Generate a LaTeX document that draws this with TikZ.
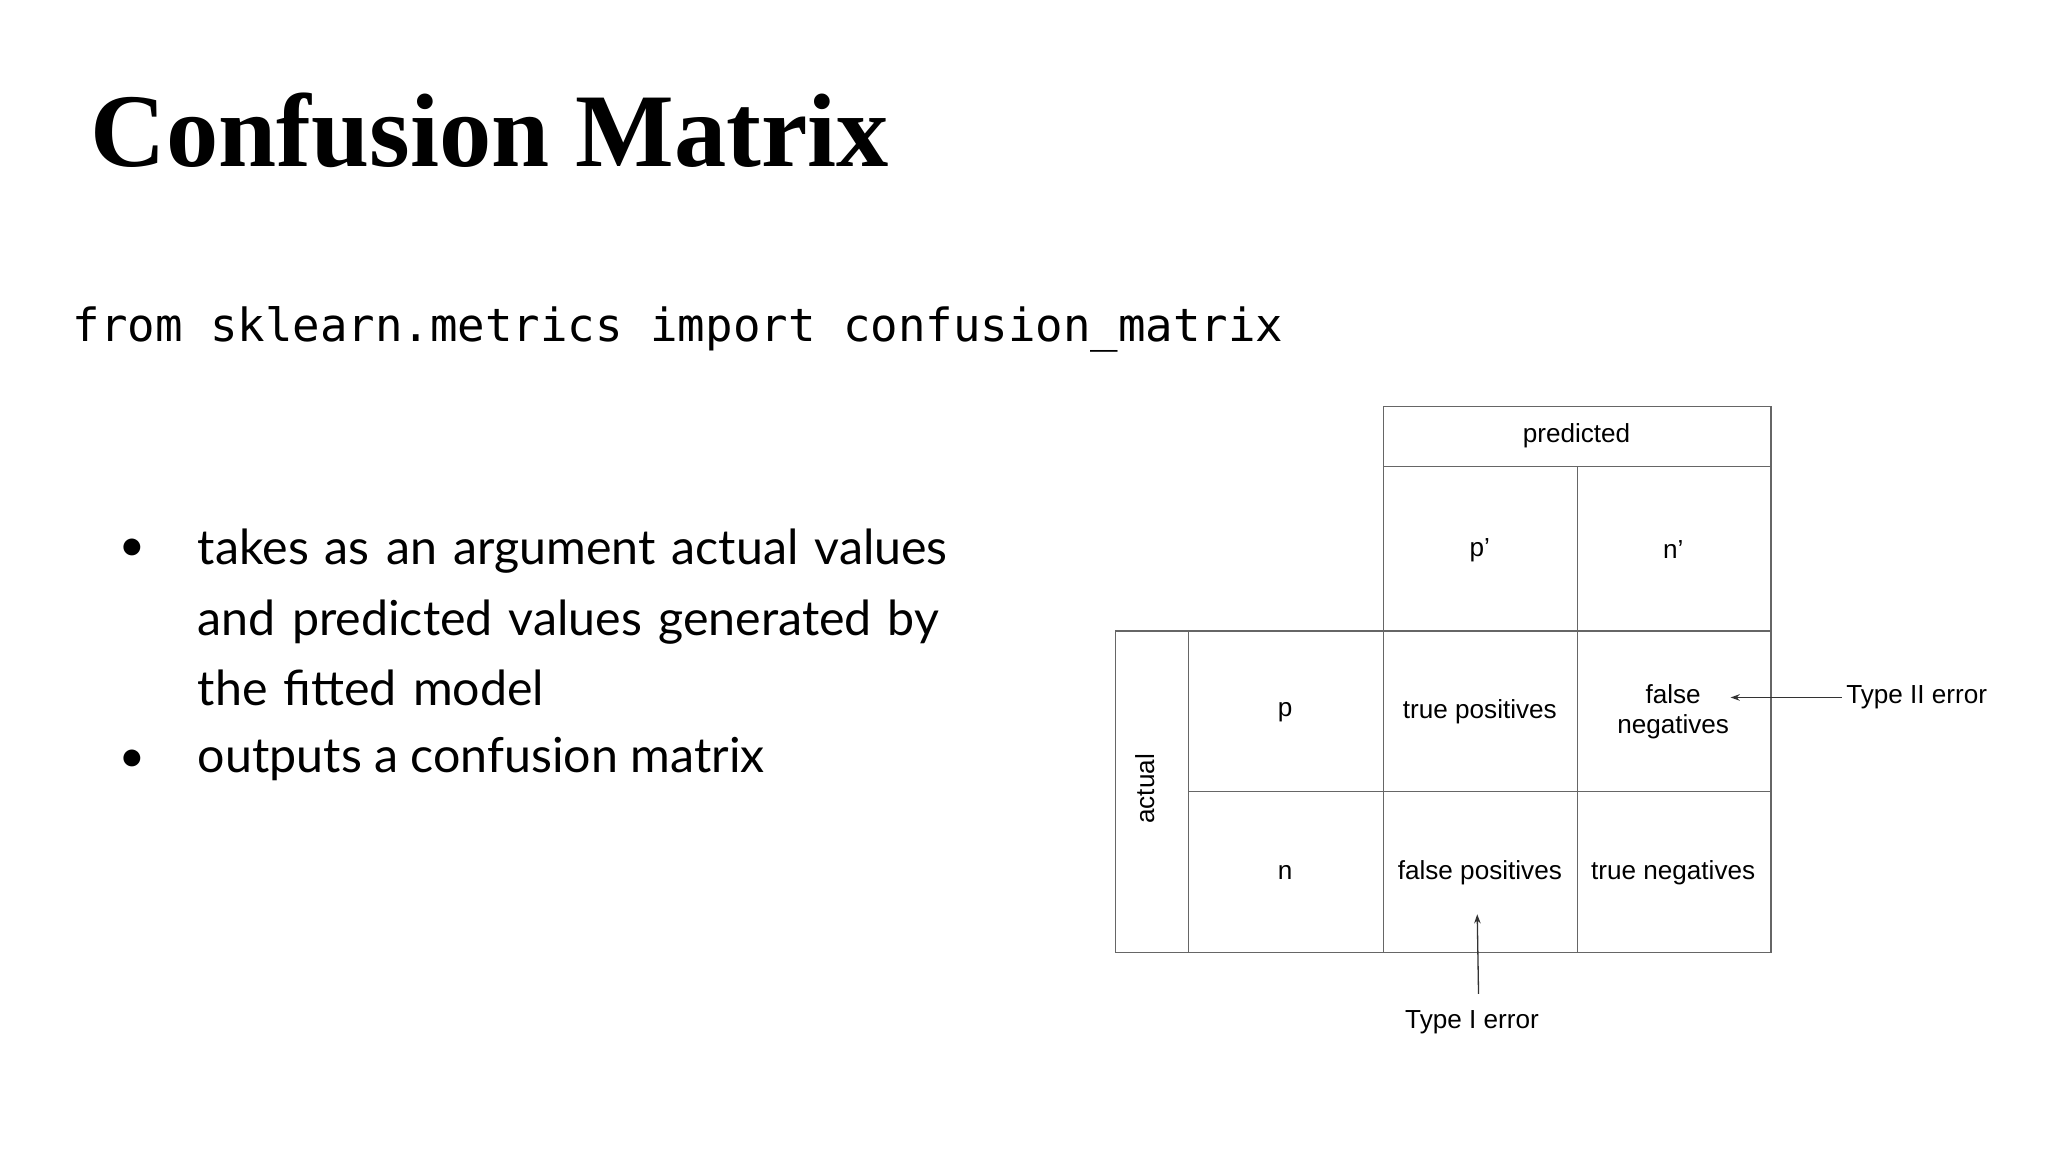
\documentclass[tikz,border=0pt]{standalone}
\usepackage{fontspec}
\setmainfont{Liberation Sans}
\newfontfamily\titlefont{Liberation Serif}
\newfontfamily\bulletfont{Lato}
\newfontfamily\codefont{DejaVu Sans Mono}
\usetikzlibrary{arrows.meta}
\begin{document}
\begin{tikzpicture}[x=1pt,y=-1pt,
  grid/.style={draw=black!60,line width=1pt},
  cell/.style={font=\fontsize{20}{23}\selectfont,align=center},
  arr/.style={draw=black!80,line width=1pt,-{Stealth[length=7pt,width=5pt]}}]
\useasboundingbox[fill=white] (0,0) rectangle (1568,882);
\node[anchor=west,font=\titlefont\bfseries\fontsize{80}{90}\selectfont] (title) at (66,100) {Confusion Matrix};
\node[anchor=west,font=\codefont\fontsize{35}{40}\selectfont] (code) at (52,252) {from sklearn.metrics import confusion\_matrix};
\node[anchor=west,font=\bulletfont\fontsize{37}{54}\selectfont,align=left,text width=640pt] (b1) at (148,473) {takes as an argument actual values\\and predicted values generated by\\the fitted model};
\node[anchor=west,font=\bulletfont\fontsize{37}{54}\selectfont] (b2) at (148,581) {outputs a confusion matrix};
\node[font=\fontsize{30}{30}\selectfont] (d1) at (101,420) {●};
\node[font=\fontsize{30}{30}\selectfont] (d2) at (101,582) {●};
% grid
\draw[grid] (1059,311) rectangle (1356,729);
\draw[grid] (1059,357) -- (1356,357);
\draw[grid] (1208,357) -- (1208,729);
\draw[grid] (854,483) rectangle (1356,729);
\draw[grid] (910,483) -- (910,729);
\draw[grid] (910,606) -- (1356,606);
\node[cell] (pred) at (1207,334) {predicted};
\node[cell] (pp) at (1133,421) {p'};
\node[cell] (np) at (1281,421) {n'};
\node[cell,rotate=90] (act) at (877,604) {actual};
\node[cell] (p) at (984,545) {p};
\node[cell] (n) at (984,668) {n};
\node[cell] (tp) at (1133,545) {true positives};
\node[cell] (fn) at (1281,545) {false\\negatives};
\node[cell] (fp) at (1133,668) {false positives};
\node[cell] (tn) at (1281,668) {true negatives};
\node[cell,anchor=west] (t2) at (1410,534) {Type II error};
\node[cell] (t1) at (1127,783) {Type I error};
\coordinate (a2) at (1325,534);
\coordinate (a1) at (1131,700);
\draw[arr] (t2.west) -- (a2);
\draw[arr] (1132,761) -- (a1);
\end{tikzpicture}
\end{document}
